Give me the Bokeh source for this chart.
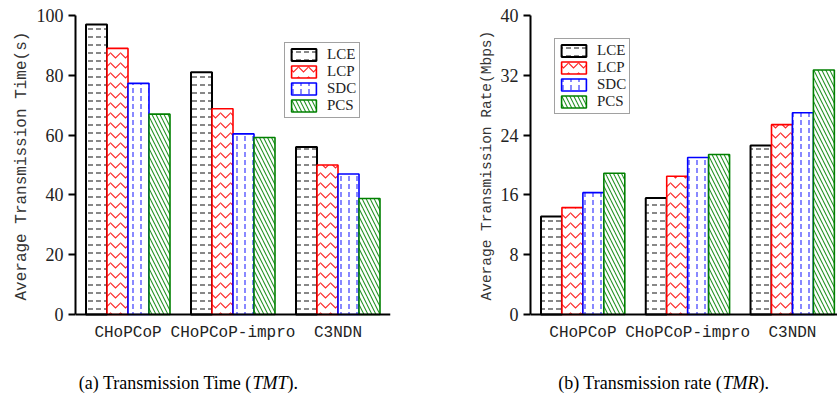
from bokeh.plotting import figure
from bokeh.layouts import row
from bokeh.models import Range1d, FixedTicker, Label, Legend, LegendItem, Span, Title
from bokeh.core.properties import value
from bokeh.embed import file_html
from bokeh.resources import INLINE

categories = ["CHoPCoP", "CHoPCoP-impro", "C3NDN"]
series = ["LCE", "LCP", "SDC", "PCS"]

time_LCE = [97, 81, 56]
time_LCP = [89, 68.8, 50]
time_SDC = [77.3, 60.4, 47]
time_PCS = [67, 59.2, 38.8]

rate_LCE = [13.1, 15.6, 22.6]
rate_LCP = [14.3, 18.5, 25.4]
rate_SDC = [16.3, 21.0, 27.0]
rate_PCS = [18.9, 21.4, 32.7]

time_ticks = [0, 20, 40, 60, 80, 100]
rate_ticks = [0, 8, 16, 24, 32, 40]

colors = {"LCE": "black", "LCP": "#ff0000", "SDC": "#0000ff", "PCS": "#008000"}
hatches = {"LCE": "horizontal_dash", "LCP": "horizontal_wave", "SDC": "vertical_dash", "PCS": "left_diagonal_line"}
scales = {"LCE": 8, "LCP": 10, "SDC": 8, "PCS": 8}
offsets = [-0.3, -0.1, 0.1, 0.3]

SERIF = "Liberation Serif"
MONO = "Liberation Mono"

H = 401
TOP = 15
BOTTOM = 4
AXIS_Y = 314  # pixel row of the zero line in the picture


def make(values, ticks, ymax, xend, width, border_left, border_right, ylabel, ylabel_size, legend_loc,
         cap_prefix, cap_italic, cap_x0, cap_w):
    frame_h = H - TOP - BOTTOM
    px_per_unit = (AXIS_Y - TOP) / ymax
    ymin = -(TOP + frame_h - AXIS_Y) / px_per_unit
    p = figure(width=width, height=H, output_backend="svg", toolbar_location=None,
               x_range=Range1d(0, xend), y_range=Range1d(ymin, ymax),
               min_border_left=border_left, min_border_right=border_right,
               min_border_top=TOP, min_border_bottom=BOTTOM)
    p.outline_line_color = None
    p.xgrid.visible = False
    p.ygrid.visible = False
    p.xaxis.visible = False
    p.background_fill_color = "white"

    items = []
    centers = [i + 0.5 for i in range(len(categories))]
    for s, off in zip(series, offsets):
        xs = [c + off for c in centers]
        r = p.vbar(x=xs, top=values[s], width=0.2, bottom=0,
                   fill_color="white", line_color=colors[s],
                   line_width=2 if s == "LCE" else 1.6,
                   hatch_pattern=hatches[s], hatch_color=colors[s],
                   hatch_scale=scales[s], hatch_weight=1.1, hatch_alpha=0.85)
        items.append(LegendItem(label=s, renderers=[r]))

    # x axis line at zero and category labels
    p.add_layout(Span(location=0, dimension="width", line_color="black", line_width=2))
    p.text(x=centers, y=[0] * len(centers), text=categories, y_offset=18,
           text_align="center", text_baseline="middle",
           text_font=value(MONO), text_font_size="16px", text_color="#222")

    leg = Legend(items=items, location=legend_loc, padding=3, spacing=0, margin=0,
                 glyph_width=31, glyph_height=15, label_height=15, label_standoff=8,
                 label_text_font=SERIF, label_text_font_size="15px", label_text_color="#222",
                 border_line_color="#444", border_line_width=1.5,
                 background_fill_color="white", background_fill_alpha=1)
    p.add_layout(leg, "center")

    ya = p.yaxis[0]
    ya.bounds = (0, ymax)
    ya.ticker = FixedTicker(ticks=ticks)
    ya.major_tick_out = 7
    ya.major_tick_in = 0
    ya.major_tick_line_width = 2
    ya.minor_tick_out = 0
    ya.minor_tick_in = 0
    ya.axis_line_width = 2
    ya.axis_line_color = "black"
    ya.major_label_text_font = SERIF
    ya.major_label_text_font_size = "18px"
    ya.major_label_text_color = "#222"
    ya.major_label_standoff = 5

    # y axis title, placed so that it is centred on the 0..ymax part of the axis
    p.add_layout(Title(text=ylabel, align="left", offset=TOP + frame_h - 300,
                       text_font=MONO, text_font_size=ylabel_size, text_font_style="normal",
                       text_color="#333", standoff=6), "left")

    cap_y = TOP + frame_h - 382
    common = dict(x_units="screen", y_units="screen", y=cap_y, text_font=SERIF,
                  text_font_size="18px", text_color="black", text_baseline="middle")
    p.add_layout(Label(x=cap_x0, text=cap_prefix, text_align="right", **common))
    p.add_layout(Label(x=cap_x0 - 4, text=cap_italic, text_align="left", text_font_style="italic", **common))
    p.add_layout(Label(x=cap_x0 - 4 + cap_w, text=").", text_align="left", **common))
    return p


time_vals = {"LCE": time_LCE, "LCP": time_LCP, "SDC": time_SDC, "PCS": time_PCS}
rate_vals = {"LCE": rate_LCE, "LCP": rate_LCP, "SDC": rate_SDC, "PCS": rate_PCS}

frame_bottom = H - BOTTOM
p1 = make(time_vals, time_ticks, 100, 3.0, 420, 75, 30, "Average Transmission Time(s)", "16px",
          (209, frame_bottom - 118), "(a)  Transmission Time (", "TMT", 181, 35)
p2 = make(rate_vals, rate_ticks, 40, 2.93, 417, 110, 0, "Average Transmission Rate(Mbps)", "14.5px",
          (24, frame_bottom - 114), "(b)  Transmission rate (", "TMR", 196, 36)

layout = row(p1, p2)
open("out.html", "w").write(file_html(layout, INLINE))
